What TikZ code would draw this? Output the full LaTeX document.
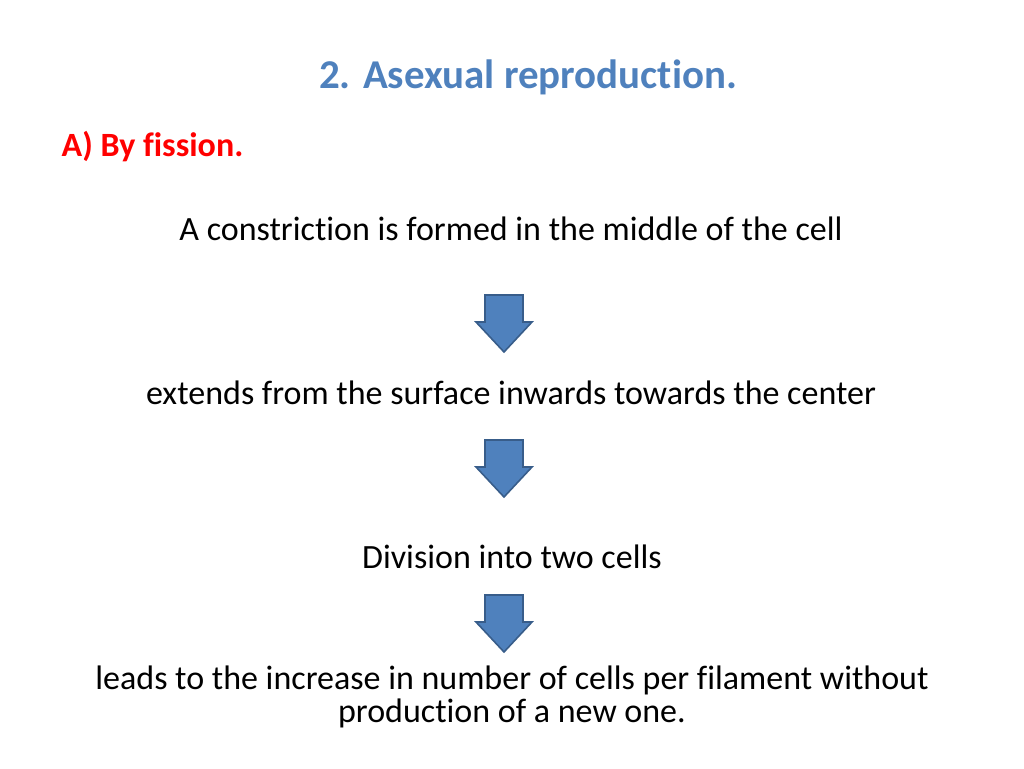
\documentclass[tikz,border=0pt]{standalone}
\usepackage{fontspec}
\setmainfont[Ligatures={NoCommon}]{Carlito}
\definecolor{tblue}{RGB}{79,129,189}
\definecolor{aborder}{RGB}{56,93,138}
\begin{document}
\begin{tikzpicture}[x=0.75pt,y=-0.75pt,
  body/.style={font=\fontsize{25.5}{24.75}\selectfont,align=center,text=black},
  darrow/.style={fill=tblue,draw=aborder,line width=1.2pt,line join=miter}]
\useasboundingbox (0,0) rectangle (1024,768);
\node[font=\fontsize{30.7}{34}\selectfont\bfseries,text=tblue] (title) at (528,77) {2. Asexual reproduction.};
\node[font=\fontsize{25.5}{30}\selectfont\bfseries,text=red,anchor=west] (sub) at (57,147) {A) By fission.};
\node[body] (t1) at (511,229) {A constriction is formed in the middle of the cell};
\node[body] (t2) at (511,393) {extends from the surface inwards towards the center};
\node[body] (t3) at (512,557) {Division into two cells};
\node[body] (t4) at (512,697) {leads to the increase in number of cells per filament without\\production of a new one.};
\foreach \y in {295,440,595}{
  \draw[darrow] (485,\y) -- (523,\y) -- (523,\y+27) -- (532,\y+27) -- (504,\y+57) -- (476,\y+27) -- (485,\y+27) -- cycle;
}
\end{tikzpicture}
\end{document}
